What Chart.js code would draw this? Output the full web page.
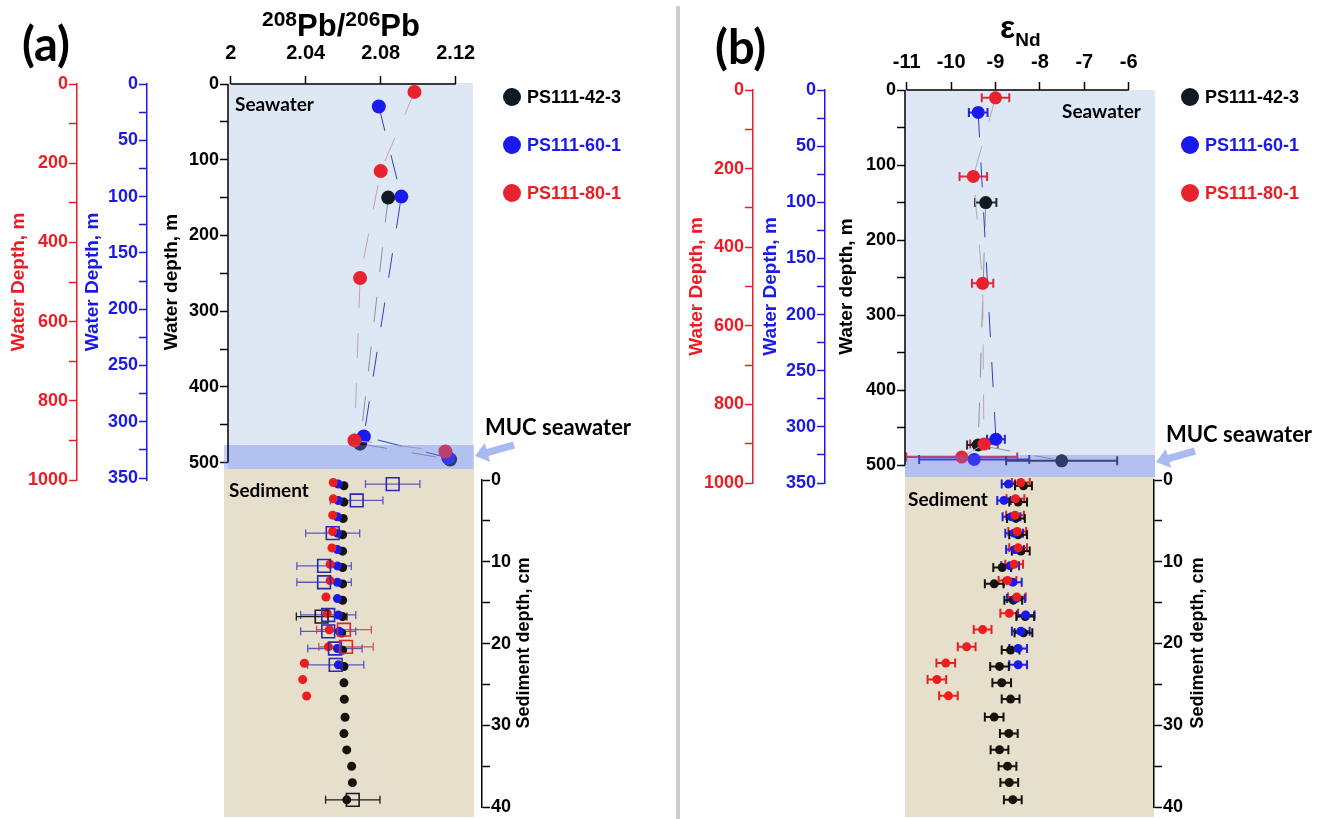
<!DOCTYPE html>
<html><head><meta charset="utf-8">
<script src="https://cdn.jsdelivr.net/npm/chart.js@4.4.1/dist/chart.umd.min.js"></script>
<style>
html,body{margin:0;padding:0;background:#fff;}
#wrap{position:relative;width:1332px;height:819px;overflow:hidden;background:#fff;}
#wrap canvas{position:absolute;}
.t{position:absolute;white-space:nowrap;font-weight:bold;line-height:1;transform:translateY(-50%);color:#000;}
.ar{font-family:"Liberation Sans",Arial,sans-serif;}
.ca{font-family:Lato,"Open Sans",sans-serif;}
.vt{position:absolute;white-space:nowrap;font-weight:bold;line-height:1;transform:translate(-50%,-50%) rotate(-90deg);font-family:"Liberation Sans",Arial,sans-serif;font-size:18px;color:#000;}
.dot{position:absolute;border-radius:50%;transform:translate(-50%,-50%);width:18px;height:18px;}
.sup{font-size:21px;vertical-align:10px;}
</style></head><body>
<div id="wrap">
<canvas id="aTop" width="660" height="500" style="left:0;top:0"></canvas>
<canvas id="bTop" width="652" height="500" style="left:680px;top:0"></canvas>
<canvas id="aSed" width="560" height="379" style="left:0;top:440px"></canvas>
<canvas id="bSed" width="560" height="379" style="left:680px;top:440px"></canvas>
<svg width="1332" height="819" style="position:absolute;left:0;top:0;pointer-events:none">
  <rect x="676" y="6" width="4" height="813" fill="#cccccc"/>
  <polygon fill="#a9b9f1" points="475,456 490.2,462.1 488.5,455.9 515,448.4 513,441.6 486.5,449.1 484.8,442.9"/>
  <polygon fill="#a9b9f1" points="1156,462 1171.2,468.1 1169.5,461.9 1196,454.4 1194,447.6 1167.5,455.1 1165.8,448.9"/>
</svg>
<div class="t ca" style="left:22px;top:43px;font-size:47px">(a)</div>
<div class="t ca" style="left:715px;top:46px;font-size:47px">(b)</div>
<div class="t ar" style="left:262px;top:24px;font-size:31px"><span class="sup">208</span>Pb/<span class="sup">206</span>Pb</div>
<div class="t ar" style="left:1000px;top:30px;font-size:32px">ε<span style="font-size:19px;vertical-align:-8px">Nd</span></div>
<div class="t ca" style="left:235px;top:103px;font-size:19px">Seawater</div>
<div class="t ca" style="left:1062px;top:110px;font-size:19px">Seawater</div>
<div class="t ca" style="left:229px;top:489px;font-size:19px">Sediment</div>
<div class="t ca" style="left:908px;top:498px;font-size:19px">Sediment</div>
<div class="t ca" style="left:485px;top:427px;font-size:22px">MUC seawater</div>
<div class="t ca" style="left:1166px;top:434px;font-size:22px">MUC seawater</div>
<div class="vt" style="left:523px;top:643px">Sediment depth, cm</div>
<div class="vt" style="left:1197px;top:643px">Sediment depth, cm</div>
<div class="dot" style="left:512px;top:97px;background:#111a22"></div>
<div class="dot" style="left:512px;top:145px;background:#1a1aee"></div>
<div class="dot" style="left:512px;top:193px;background:#e8222e"></div>
<div class="t ar" style="left:527px;top:97px;font-size:18px;color:#000">PS111-42-3</div>
<div class="t ar" style="left:527px;top:145px;font-size:18px;color:#1a1aee">PS111-60-1</div>
<div class="t ar" style="left:527px;top:193px;font-size:18px;color:#ec1c24">PS111-80-1</div>
<div class="dot" style="left:1190px;top:97px;background:#111a22"></div>
<div class="dot" style="left:1190px;top:145px;background:#1a1aee"></div>
<div class="dot" style="left:1190px;top:193px;background:#e8222e"></div>
<div class="t ar" style="left:1205px;top:97px;font-size:18px;color:#000">PS111-42-3</div>
<div class="t ar" style="left:1205px;top:145px;font-size:18px;color:#1a1aee">PS111-60-1</div>
<div class="t ar" style="left:1205px;top:193px;font-size:18px;color:#ec1c24">PS111-80-1</div>
</div>
<script>
// ================= DATA =================
// Panel (a): 208Pb/206Pb
const pbTicks = [2, 2.04, 2.08, 2.12];
// seawater: depth (m) on each core's own depth axis
const pbSw42Depth = [150, 475, 496];
const pbSw42 = [2.084, 2.069, 2.117];
const pbSw60Depth = [20, 100, 313, 332];
const pbSw60 = [2.079, 2.091, 2.071, 2.116];
const pbSw80Depth = [20, 220, 490, 900, 928];
const pbSw80 = [2.098, 2.080, 2.069, 2.066, 2.1145];
// sediment depths (cm)
const sed42Depth = [0.7, 2.7, 4.7, 6.7, 8.7, 10.7, 12.7, 14.7, 16.7, 18.7, 20.8, 22.8, 24.8, 26.8, 29, 31, 33, 35, 37, 39.1];
const sed60Depth = [0.5, 2.5, 4.5, 6.5, 8.5, 10.5, 12.5, 14.5, 16.5, 18.5, 20.6, 22.6];
const sed80Depth = [0.3, 2.3, 4.3, 6.3, 8.3, 10.3, 12.3, 14.3, 16.3, 18.3, 20.4, 22.4, 24.4, 26.4];
// sediment Pb ratios
const pbSed42 = [2.0604, 2.0604, 2.0600, 2.0597, 2.0597, 2.0597, 2.0597, 2.0597, 2.0597, 2.0592, 2.0597, 2.0604, 2.0604, 2.0606, 2.0610, 2.0604, 2.0619, 2.0645, 2.0649, 2.0619];
const pbSed60 = [2.0574, 2.0574, 2.0569, 2.0569, 2.0569, 2.0569, 2.0569, 2.0569, 2.0574, 2.0579, 2.0569, 2.0574];
const pbSed80 = [2.0547, 2.0547, 2.0544, 2.0544, 2.0540, 2.0530, 2.0530, 2.0508, 2.0515, 2.0526, 2.0521, 2.0393, 2.0384, 2.0405];
// open squares with 2SD
const sq60Depth = [0.5, 2.5, 6.5, 10.5, 12.5, 16.5, 18.5, 20.6, 22.6];
const sq60 = [2.0864, 2.0672, 2.0544, 2.0498, 2.0498, 2.0520, 2.0520, 2.0556, 2.0560];
const sq60Err = [0.0145, 0.0140, 0.0144, 0.0145, 0.0145, 0.0147, 0.0147, 0.0145, 0.0150];
const sq42Depth = [16.7, 39.1];
const sq42 = [2.0485, 2.0651];
const sq42Err = [0.0135, 0.0145];
const sq80Depth = [18.3, 20.4];
const sq80 = [2.0604, 2.0615];
const sq80Err = [0.0146, 0.0145];

// Panel (b): eps Nd
const ndTicks = [-11, -10, -9, -8, -7, -6];
const ndSw42Depth = [150, 473, 494];
const ndSw42 = [-9.22, -9.39, -7.51];
const ndSw42Err = [0.24, 0.25, 1.25];
const ndSw60Depth = [20, 311, 329];
const ndSw60 = [-9.39, -8.99, -9.48];
const ndSw60Err = [0.21, 0.20, 1.24];
const ndSw80Depth = [20, 220, 492, 901, 934];
const ndSw80 = [-9.00, -9.50, -9.29, -9.26, -9.76];
const ndSw80Err = [0.31, 0.31, 0.24, 0.31, 1.25];
const ndSed42 = [-8.37, -8.49, -8.54, -8.49, -8.43, -8.85, -9.03, -8.60, -8.33, -8.37, -8.66, -8.91, -8.86, -8.66, -9.03, -8.70, -8.91, -8.73, -8.69, -8.61];
const ndSed42Err = [0.19, 0.20, 0.20, 0.20, 0.20, 0.20, 0.21, 0.20, 0.20, 0.20, 0.20, 0.21, 0.21, 0.20, 0.21, 0.20, 0.20, 0.20, 0.20, 0.20];
const ndSed60 = [-8.71, -8.81, -8.64, -8.58, -8.56, -8.67, -8.61, -8.54, -8.32, -8.43, -8.49, -8.49];
const ndSed60Err = [0.15, 0.15, 0.20, 0.20, 0.20, 0.20, 0.20, 0.20, 0.20, 0.20, 0.20, 0.20];
const ndSed80 = [-8.43, -8.55, -8.56, -8.51, -8.49, -8.58, -8.73, -8.52, -8.69, -9.29, -9.65, -10.12, -10.32, -10.06];
const ndSed80Err = [0.20, 0.20, 0.20, 0.20, 0.20, 0.20, 0.20, 0.20, 0.20, 0.20, 0.20, 0.21, 0.21, 0.21];

// ================= STYLE / HELPERS =================
const F = '"Liberation Sans", Arial, sans-serif';
const RED = '#ec1c24', BLUE = '#1a1ae6', BLK = '#000000';
const tickFont = {family: F, size: 18, weight: 'bold'};
const xTickFont = {family: F, size: 20, weight: 'bold'};
const titleFont = {family: F, size: 19, weight: 'bold'};
const pts = (xs, ys) => xs.map((x, i) => ({x: x, y: ys[i]}));

const decor = {
  id: 'decor',
  beforeDraw(chart, args, o) {
    const ctx = chart.ctx;
    (o.bg || []).forEach(r => { ctx.fillStyle = r.c; ctx.fillRect(r.x, r.y, r.w, r.h); });
  },
  beforeDatasetsDraw(chart) {
    const ctx = chart.ctx;
    chart.data.datasets.forEach((ds, i) => {
      if (!ds.xErr) return;
      const meta = chart.getDatasetMeta(i);
      const xs = chart.scales[meta.xAxisID];
      ctx.save();
      ctx.strokeStyle = ds.errColor; ctx.lineWidth = ds.errWidth;
      meta.data.forEach((pt, j) => {
        const v = ds.data[j].x, e = ds.xErr[j], c = ds.errCap, y = pt.y;
        const x0 = xs.getPixelForValue(v - e), x1 = xs.getPixelForValue(v + e);
        ctx.beginPath();
        ctx.moveTo(x0, y); ctx.lineTo(x1, y);
        ctx.moveTo(x0, y - c); ctx.lineTo(x0, y + c);
        ctx.moveTo(x1, y - c); ctx.lineTo(x1, y + c);
        ctx.stroke();
      });
      ctx.restore();
    });
  },
  afterDatasetsDraw(chart, args, o) {
    const ctx = chart.ctx;
    (o.over || []).forEach(r => { ctx.fillStyle = r.c; ctx.fillRect(r.x, r.y, r.w, r.h); });
  },
  afterDraw(chart, args, o) {
    const ctx = chart.ctx;
    (o.lines || []).forEach(l => {
      const s = chart.scales[l.scale];
      ctx.save(); ctx.strokeStyle = l.color; ctx.lineWidth = l.width; ctx.beginPath();
      if (s.isHorizontal()) {
        const y = s.position === 'top' ? s.bottom : s.top;
        ctx.moveTo(s.getPixelForValue(l.from), y); ctx.lineTo(s.getPixelForValue(l.to), y);
      } else {
        const x = s.position === 'left' ? s.right : s.left;
        ctx.moveTo(x, s.getPixelForValue(l.from)); ctx.lineTo(x, s.getPixelForValue(l.to));
      }
      ctx.stroke(); ctx.restore();
    });
  }
};

function yLeft(color, max, step, every, width, tpad, weight, title, manualBorder) {
  return {
    type: 'linear', position: 'left', reverse: true, min: 0, max: max, weight: weight,
    afterFit: s => { s.width = width; },
    ticks: {stepSize: step, includeBounds: false, autoSkip: false, color: color, padding: 1, font: tickFont,
      callback: v => (Math.round(v) % every === 0 ? String(v) : '')},
    grid: {display: true, drawOnChartArea: false, drawTicks: true, tickLength: 8, tickColor: color, tickWidth: 1.5},
    border: {display: !manualBorder, color: color, width: 1.5},
    title: {display: true, text: title, color: color, font: titleFont, padding: {top: tpad, bottom: 0}}
  };
}
function xTop(min, max, ticks, h, pad, tl) {
  return {
    type: 'linear', position: 'top', min: min, max: max,
    afterFit: s => { s.height = h; },
    afterBuildTicks: s => { s.ticks = ticks.map(v => ({value: v})); },
    ticks: {color: '#000', padding: pad, font: xTickFont, autoSkip: false, maxRotation: 0,
      callback: v => String(+(+v).toFixed(2))},
    grid: {display: true, drawOnChartArea: false, drawTicks: true, tickLength: tl, tickColor: '#000', tickWidth: 1.5},
    border: {display: false}
  };
}
function yRight(width) {
  return {
    type: 'linear', position: 'right', reverse: true, min: 0, max: 40,
    afterFit: s => { s.width = width; },
    ticks: {stepSize: 5, autoSkip: false, color: '#000', padding: 1, font: tickFont,
      callback: v => (v % 10 === 0 ? String(v) : '')},
    grid: {display: true, drawOnChartArea: false, drawTicks: true, tickLength: 8, tickColor: '#000', tickWidth: 1.5},
    border: {display: true, color: '#000', width: 1.5}
  };
}
function swSet(label, xs, ys, axis, fill, line, r, err, errColor) {
  return {label: label, data: pts(xs, ys), yAxisID: axis, xAxisID: 'x', showLine: true,
    borderColor: line, borderWidth: 1, borderDash: [25, 25], tension: 0,
    pointRadius: r, pointBackgroundColor: fill, pointBorderColor: fill, pointBorderWidth: 0, clip: false,
    xErr: err, errColor: errColor, errWidth: 2, errCap: 4.5};
}
function dotSet(label, xs, ys, fill, r, err, errColor) {
  return {label: label, data: pts(xs, ys), showLine: false, pointRadius: r,
    pointBackgroundColor: fill, pointBorderColor: fill, pointBorderWidth: 0, clip: false,
    xErr: err, errColor: errColor, errWidth: 2, errCap: 4.5};
}
function sqSet(label, xs, ys, err, color, errColor) {
  return {label: label, data: pts(xs, ys), showLine: false, pointStyle: 'rect', pointRadius: 9,
    pointBackgroundColor: 'rgba(0,0,0,0)', pointBorderColor: color, pointBorderWidth: 1.6, clip: false,
    xErr: err, errColor: errColor, errWidth: 1.3, errCap: 4};
}
const base = (pad, dec, scales) => ({
  responsive: false, animation: false, events: [],
  layout: {padding: pad},
  plugins: {legend: {display: false}, tooltip: {enabled: false}, decor: dec},
  scales: scales
});

// ================= PANEL (a) =================
new Chart(document.getElementById('aTop'), {
  type: 'scatter',
  data: {datasets: [
    swSet('PS111-80-1', pbSw80, pbSw80Depth, 'yR', '#e8222e', '#c9a0ae', 7),
    swSet('PS111-60-1', pbSw60, pbSw60Depth, 'yB', '#1a1aee', '#3040c8', 7),
    swSet('PS111-42-3', pbSw42, pbSw42Depth, 'yK', '#111a22', '#8a929c', 7)
  ]},
  options: base({left: 0, top: 0, right: 187, bottom: 20},
    {bg: [{x: 228, y: 83, w: 245, h: 386, c: '#dde8f4'}],
     over: [{x: 224, y: 445, w: 250, h: 24, c: 'rgba(100,120,235,0.35)'}],
     lines: [{scale: 'x', from: 2, to: 2.12, color: '#000', width: 1.5},
             {scale: 'yK', from: 0, to: 500, color: '#000', width: 1.5}]},
    {x: xTop(1.99856, 2.12923, pbTicks, 84, 11, 8),
     yR: yLeft(RED, 1000, 100, 200, 77, 7, 3, 'Water Depth, m', false),
     yB: yLeft(BLUE, 351.7, 25, 50, 70, 4, 2, 'Water Depth, m', false),
     yK: yLeft(BLK, 523, 50, 100, 81, 13, 1, 'Water depth, m', true)}),
  plugins: [decor]
});

new Chart(document.getElementById('aSed'), {
  type: 'scatter',
  data: {datasets: [
    sqSet('PS111-80-1 2SD', sq80, sq80Depth, sq80Err, '#d42a2a', '#d85050'),
    sqSet('PS111-60-1 2SD', sq60, sq60Depth, sq60Err, '#2828b4', '#5a5ac0'),
    sqSet('PS111-42-3 2SD', sq42, sq42Depth, sq42Err, '#1a1a1a', '#1a1a1a'),
    dotSet('PS111-80-1', pbSed80, sed80Depth, '#ee1c1c', 4.5),
    dotSet('PS111-60-1', pbSed60, sed60Depth, '#1a1ae6', 4.5),
    dotSet('PS111-42-3', pbSed42, sed42Depth, '#16120c', 4.5)
  ]},
  options: base({left: 224, top: 40, right: 0, bottom: 11},
    {bg: [{x: 224, y: 29, w: 250, h: 348, c: '#e5dfcc'}]},
    {x: {type: 'linear', display: false, min: 1.99643, max: 2.13403},
     y: yRight(78)}),
  plugins: [decor]
});

// ================= PANEL (b) =================
new Chart(document.getElementById('bTop'), {
  type: 'scatter',
  data: {datasets: [
    swSet('PS111-80-1', ndSw80, ndSw80Depth, 'yR', '#e8222e', '#b8a8b0', 6.5, ndSw80Err, '#dc2a3c'),
    swSet('PS111-60-1', ndSw60, ndSw60Depth, 'yB', '#1a1aee', '#3040c8', 6.5, ndSw60Err, '#2424d0'),
    swSet('PS111-42-3', ndSw42, ndSw42Depth, 'yK', '#111a22', '#8a929c', 6.5, ndSw42Err, '#222a36')
  ]},
  options: base({left: 0, top: 0, right: 177, bottom: 17},
    {bg: [{x: 225, y: 90, w: 250, h: 387, c: '#dde8f4'}],
     over: [{x: 225, y: 455, w: 250, h: 22, c: 'rgba(100,120,235,0.35)'}],
     lines: [{scale: 'x', from: -11, to: -6, color: '#000', width: 1.5},
             {scale: 'yK', from: 0, to: 500, color: '#000', width: 1.5}]},
    {x: xTop(-11.0383, -5.4077, ndTicks, 90, 8, 8),
     yR: yLeft(RED, 1000, 100, 200, 73, 5, 3, 'Water Depth, m', false),
     yB: yLeft(BLUE, 350, 25, 50, 72, 6, 2, 'Water Depth, m', false),
     yK: yLeft(BLK, 523.6, 50, 100, 80, 10.5, 1, 'Water depth, m', true)}),
  plugins: [decor]
});

new Chart(document.getElementById('bSed'), {
  type: 'scatter',
  data: {datasets: [
    dotSet('PS111-80-1', ndSed80, sed80Depth, '#ee1c1c', 4.5, ndSed80Err, '#e82020'),
    dotSet('PS111-60-1', ndSed60, sed60Depth, '#1a1ae6', 4.5, ndSed60Err, '#2020e0'),
    dotSet('PS111-42-3', ndSed42, sed42Depth, '#16120c', 4.5, ndSed42Err, '#16120c')
  ]},
  options: base({left: 225, top: 40, right: 0, bottom: 12},
    {bg: [{x: 225, y: 37, w: 249, h: 340, c: '#e5dfcc'}]},
    {x: {type: 'linear', display: false, min: -11.0383, max: -5.4302},
     y: yRight(86)}),
  plugins: [decor]
});
</script>
</body></html>
